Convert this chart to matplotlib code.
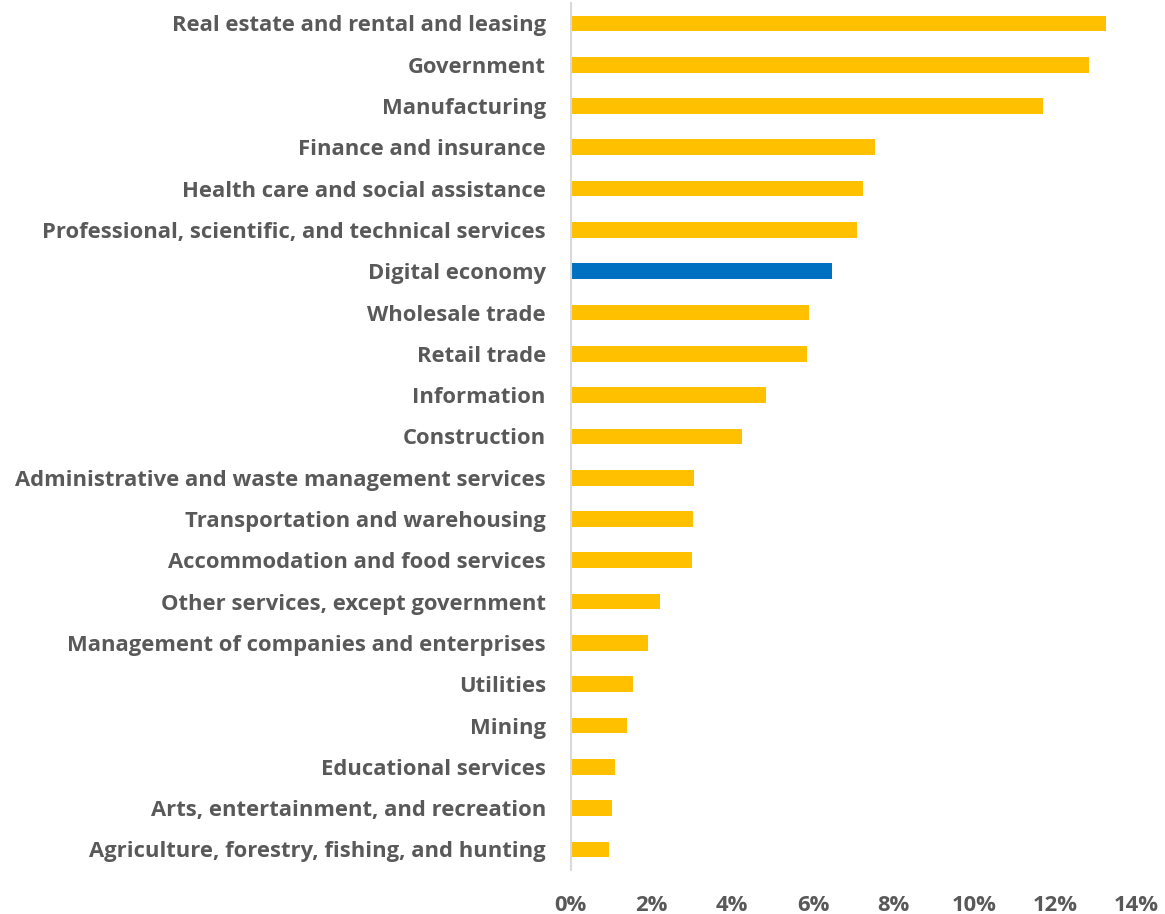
import numpy as np
import matplotlib.pyplot as plt
from matplotlib.ticker import FuncFormatter

# categories listed top to bottom
CATEGORIES = [
    "Real estate and rental and leasing",
    "Government",
    "Manufacturing",
    "Finance and insurance",
    "Health care and social assistance",
    "Professional, scientific, and technical services",
    "Digital economy",
    "Wholesale trade",
    "Retail trade",
    "Information",
    "Construction",
    "Administrative and waste management services",
    "Transportation and warehousing",
    "Accommodation and food services",
    "Other services, except government",
    "Management of companies and enterprises",
    "Utilities",
    "Mining",
    "Educational services",
    "Arts, entertainment, and recreation",
    "Agriculture, forestry, fishing, and hunting",
]
SHARE_PCT = [13.27, 12.85, 11.69, 7.53, 7.23, 7.10, 6.47, 5.90, 5.86, 4.84,
             4.24, 3.04, 3.02, 2.99, 2.22, 1.91, 1.53, 1.40, 1.10, 1.03, 0.95]
HIGHLIGHT = "Digital economy"
X_TICKS = [0, 2, 4, 6, 8, 10, 12, 14]

GOLD = "#FFC000"
BLUE = "#0070C0"
TEXT = "#595959"

plt.rcParams["font.family"] = ["Open Sans", "DejaVu Sans"]

fig = plt.figure(figsize=(11.65, 9.14), dpi=100)
ax = fig.add_axes([0.49, 0.048, 0.485, 0.949])

y = np.arange(len(CATEGORIES))
colors = [BLUE if c == HIGHLIGHT else GOLD for c in CATEGORIES]
ax.barh(y, SHARE_PCT, height=0.38, color=colors, zorder=2)

ax.set_xlim(0, 14)
ax.set_ylim(len(CATEGORIES) - 0.5, -0.5)
ax.set_yticks(y)
ax.set_yticklabels(CATEGORIES)
ax.set_xticks(X_TICKS)
ax.xaxis.set_major_formatter(FuncFormatter(lambda v, _: f"{v:.0f}%"))

for side in ("top", "right", "bottom"):
    ax.spines[side].set_visible(False)
ax.spines["left"].set_color("#D9D9D9")
ax.spines["left"].set_linewidth(1.5)

ax.tick_params(axis="y", length=0, pad=18, labelsize=15.8, labelcolor=TEXT)
ax.tick_params(axis="x", length=0, pad=18, labelsize=15.8, labelcolor=TEXT)
for lab in ax.get_yticklabels() + ax.get_xticklabels():
    lab.set_fontweight("bold")

fig.savefig("out.png", dpi=100)
